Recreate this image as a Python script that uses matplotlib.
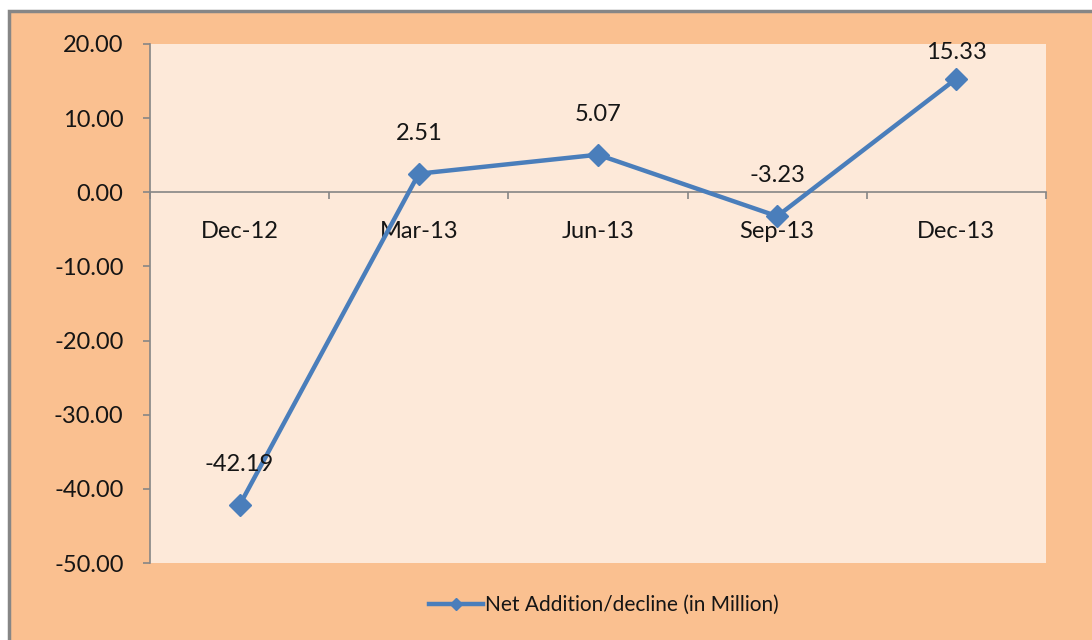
import matplotlib.pyplot as plt
from matplotlib.patches import Rectangle
from matplotlib.ticker import FormatStrFormatter

## data
quarters = ["Dec-12", "Mar-13", "Jun-13", "Sep-13", "Dec-13"]
net_addition = [-42.19, 2.51, 5.07, -3.23, 15.33]
series_name = "Net Addition/decline (in Million)"

## colours
outer_bg = "#FAC090"
inner_bg = "#FDE9D9"
line_col = "#4A7EBB"
axis_col = "#868686"

plt.rcParams['font.family'] = ['Lato', 'DejaVu Sans']

fig = plt.figure(figsize=(10.92, 6.4), dpi=100)
fig.patch.set_facecolor("white")
# chart background with grey frame (right/bottom edges run off the image)
fig.patches.append(Rectangle((9 / 1092, -0.05), 1.1, 1.05 - 11 / 640,
                             transform=fig.transFigure, facecolor=outer_bg,
                             edgecolor=axis_col, linewidth=2.5, zorder=-10))

ax = fig.add_axes([150 / 1092, 77 / 640, 896 / 1092, 519 / 640])
ax.set_facecolor(inner_bg)

x = list(range(len(quarters)))
ax.plot(x, net_addition, color=line_col, linewidth=3.2, marker="D",
        markersize=11.5, label=series_name, zorder=3)

# data labels above points (last one pushed down by the plot top)
offsets = [29, 29, 29, 29, 19]
for xi, v, off in zip(x, net_addition, offsets):
    ax.annotate(f"{v:.2f}", (xi, v), xytext=(0, off), textcoords="offset points",
                ha="center", va="center", fontsize=17, color="#151515")

ax.set_xlim(-0.5, len(quarters) - 0.5)
ax.set_ylim(-50, 20)
ax.set_yticks(range(-50, 21, 10))
ax.yaxis.set_major_formatter(FormatStrFormatter("%.2f"))

ax.set_xticks(x)
ax.set_xticklabels(quarters)
ax.set_xticks([i - 0.5 for i in range(len(quarters) + 1)], minor=True)
ax.tick_params(axis="x", which="major", length=0, pad=21, labelsize=17, labelcolor="#151515")
ax.tick_params(axis="x", which="minor", length=5, width=1.2, color=axis_col, direction="out")
ax.tick_params(axis="y", length=5, width=1.2, color=axis_col, pad=14, labelsize=17, labelcolor="#151515")

ax.spines["top"].set_visible(False)
ax.spines["right"].set_visible(False)
ax.spines["left"].set_color(axis_col)
ax.spines["left"].set_linewidth(1.2)
ax.spines["bottom"].set_position(("data", 0))
ax.spines["bottom"].set_color(axis_col)
ax.spines["bottom"].set_linewidth(1.2)

leg = fig.legend(loc="center", bbox_to_anchor=(604 / 1092, 1 - 605 / 640), frameon=False,
                 fontsize=15, handlelength=2.6, handletextpad=0.1, markerscale=0.5)
for t in leg.get_texts():
    t.set_color("#151515")

fig.savefig("out.png", dpi=100, facecolor=fig.get_facecolor())
